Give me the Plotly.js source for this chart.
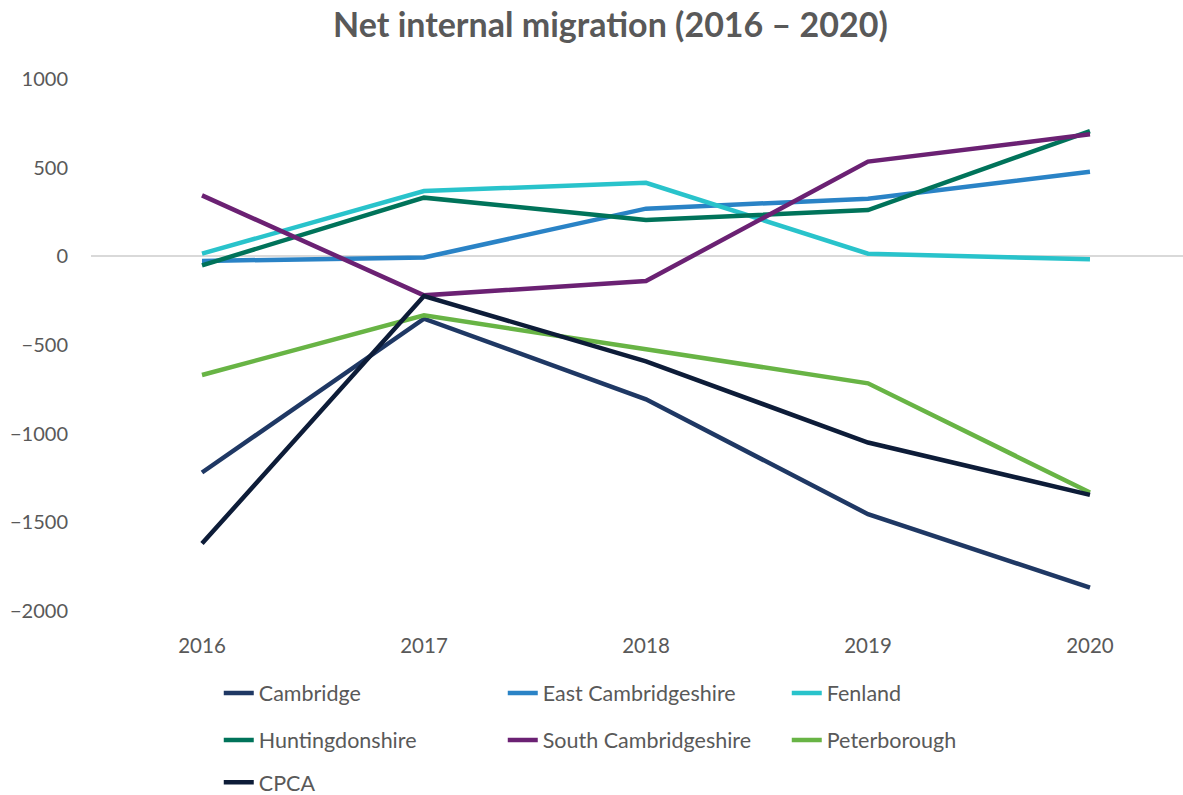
<!DOCTYPE html>
<html>
<head>
<meta charset="utf-8">
<script src="https://cdn.plot.ly/plotly-3.0.1.min.js"></script>
<style>
  html, body { margin: 0; padding: 0; background: #fff; }
  #plot { width: 1183px; height: 795px; }
</style>
</head>
<body>
<div id="plot"></div>
<script>
// years on the x axis
var years = ['2016', '2017', '2018', '2019', '2020'];

// net internal migration per area
var cambridge = [-1219, -352, -806, -1454, -1868];
var eastCambs = [-26, -7, 269, 325, 477];
var fenland = [15, 368, 415, 15, -17];
var huntingdonshire = [-51, 331, 205, 261, 706];
var southCambs = [344, -220, -139, 534, 688];
var peterborough = [-669, -333, -524, -716, -1332];
var cpca = [-1620, -224, -592, -1050, -1345];

function line(name, y, color, leg) {
    return {
        x: years,
        y: y,
        type: 'scatter',
        mode: 'lines',
        name: name,
        legend: leg,
        line: {color: color, width: 4.5}
    };
}

var data = [
    line('Cambridge', cambridge, '#1F3864', 'legend'),
    line('East Cambridgeshire', eastCambs, '#2A83C6', 'legend'),
    line('Fenland', fenland, '#29C3CB', 'legend'),
    line('Huntingdonshire', huntingdonshire, '#00735A', 'legend2'),
    line('South Cambridgeshire', southCambs, '#6B2173', 'legend2'),
    line('Peterborough', peterborough, '#68B445', 'legend2'),
    line('CPCA', cpca, '#0D1C38', 'legend3')
];

var legFont = {family: 'Lato, sans-serif', size: 21.5, color: '#595959'};
function leg(y) {
    return {
        orientation: 'h',
        x: 0.117, xanchor: 'left',
        y: y, yanchor: 'middle',
        font: legFont,
        entrywidth: 239,
        entrywidthmode: 'pixels',
        bgcolor: 'rgba(0,0,0,0)'
    };
}

var layout = {
    width: 1183,
    height: 795,
    margin: {l: 91, r: 0, t: 79, b: 184, autoexpand: false},
    paper_bgcolor: '#fff',
    plot_bgcolor: '#fff',
    font: {family: 'Lato, sans-serif', color: '#595959'},
    title: {
        text: '<b>Net internal migration (2016 – 2020)</b>',
        font: {family: 'Lato, sans-serif', size: 34, color: '#595959'},
        x: 0.516, xanchor: 'center', xref: 'container',
        y: 0.968, yanchor: 'middle', yref: 'container'
    },
    xaxis: {
        type: 'category',
        range: [-0.5, 4.419],
        showgrid: false,
        showline: false,
        zeroline: false,
        ticks: '',
        tickfont: {size: 20.5, color: '#595959'},
        ticklabelstandoff: 20
    },
    yaxis: {
        range: [-2000, 1000],
        tickvals: [-2000, -1500, -1000, -500, 0, 500, 1000],
        showgrid: false,
        zeroline: true,
        zerolinecolor: '#D9D9D9',
        zerolinewidth: 1.5,
        showline: false,
        ticks: '',
        tickfont: {size: 20, color: '#595959'},
        ticklabelstandoff: 22
    },
    showlegend: true,
    legend: leg(-0.154),
    legend2: leg(-0.2425),
    legend3: leg(-0.322)
};

Plotly.newPlot('plot', data, layout, {displayModeBar: false});
</script>
</body>
</html>
